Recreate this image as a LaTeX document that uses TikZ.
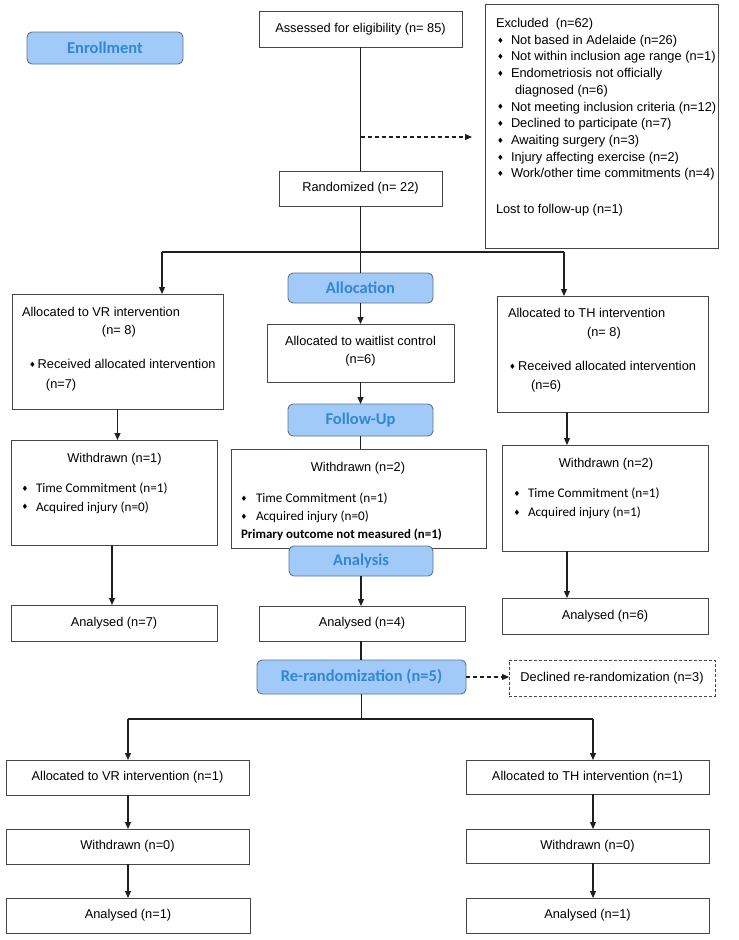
\documentclass[tikz,border=0pt]{standalone}
\usepackage{fontspec}
\setmainfont{Liberation Sans}
\newfontfamily\calfont{Carlito}
\newfontfamily\dvfont{DejaVu Sans}
\usetikzlibrary{arrows.meta,calc}
\definecolor{bfill}{RGB}{162,202,249}
\definecolor{bdraw}{RGB}{95,115,140}
\definecolor{btext}{RGB}{48,136,212}
\definecolor{gline}{RGB}{70,70,70}
\newcommand\dm{\raisebox{1.1pt}{\dvfont\fontsize{7.5}{7.5}\selectfont ♦}}
\newcommand\exb{\makebox[15pt][l]{\hspace{1.2pt}\dm}}
\begin{document}
\begin{tikzpicture}[x=1pt,y=-1pt,
 box/.style={draw=gline, line width=0.9pt, inner sep=0, outer sep=0, anchor=north west, font=\fontsize{12.8}{16}\selectfont},
 dbox/.style={box, dashed, dash pattern=on 3pt off 2pt},
 stage/.style={draw=bdraw, fill=bfill, rounded corners=5pt, line width=0.9pt, inner sep=0, outer sep=0, anchor=north west, font=\calfont\bfseries\fontsize{16.5}{18}\selectfont, text=btext},
 conn/.style={draw=black!88, line width=1.1pt},
 arr/.style={conn, -{Triangle[width=6pt,length=7pt]}},
 dasharr/.style={conn, dash pattern=on 4pt off 3pt, -{Triangle[width=6pt,length=7pt]}},
 txt/.style={inner sep=0, outer sep=0, anchor=base, font=\fontsize{12.8}{18}\selectfont},
 ltxt/.style={txt, anchor=base west},
 ctxt/.style={inner sep=0, outer sep=0, anchor=base west, font=\calfont\fontsize{13.2}{18}\selectfont},
]
\useasboundingbox[fill=white] (0,0) rectangle (739,940);

% ---------- enrollment ----------
\node[stage, minimum width=156, minimum height=32] (enr) at (27,32) {Enrollment};
\node[box, minimum width=203, minimum height=36] (assess) at (259,11) {Assessed for eligibility (n= 85)};
\node[box, minimum width=233, minimum height=244] (excl) at (485,4) {};
\node[ltxt, font=\fontsize{12.8}{16.7}\selectfont] (excltxt) at (496,27.5) {\begin{tabular}[t]{@{}l@{}}
Excluded\ \ (n=62)\\
\exb Not based in Adelaide (n=26)\\
\exb Not within inclusion age range (n=1)\\
\exb Endometriosis not officially\\
\hspace{19pt}diagnosed (n=6)\\
\exb Not meeting inclusion criteria (n=12)\\
\exb Declined to participate (n=7)\\
\exb Awaiting surgery (n=3)\\
\exb Injury affecting exercise (n=2)\\
\exb Work/other time commitments (n=4)\\[19.3pt]
Lost to follow-up (n=1)
\end{tabular}};
\node[box, minimum width=163, minimum height=35] (rand) at (279,171) {Randomized (n= 22)};
\coordinate (exarr) at (472,137);
\draw[conn] (assess.south) -- (assess.south |- rand.north);
\draw[dasharr] (assess.south |- exarr) -- (exarr);

% ---------- allocation ----------
\node[stage, minimum width=145, minimum height=30] (alloc) at (288,273) {Allocation};
\node[box, minimum width=211, minimum height=115] (vr) at (12,294) {};
\node[ltxt] (vrtxt) at (22,316.5) {\begin{tabular}[t]{@{}l@{}}
Allocated to VR intervention\\
\hspace{80pt}(n= 8)\\[16pt]
\hspace{7pt}\dm\hspace{2pt}Received allocated intervention\\[2pt]
\hspace{24pt}(n=7)
\end{tabular}};
\node[box, minimum width=187, minimum height=58] (wait) at (267,324) {};
\node[txt] (waittxt) at (360.5,345.5) {\begin{tabular}[t]{@{}c@{}}Allocated to waitlist control\\(n=6)\end{tabular}};
\node[box, minimum width=211, minimum height=116] (th) at (497,296) {};
\node[ltxt] (thtxt) at (508,317.5) {\begin{tabular}[t]{@{}l@{}}
Allocated to TH intervention\\[1pt]
\hspace{79pt}(n= 8)\\[16pt]
\hspace{1pt}\dm\hspace{2.5pt}Received allocated intervention\\[1pt]
\hspace{23pt}(n=6)
\end{tabular}};
\coordinate (jL) at (162,252);
\coordinate (jR) at (564,252);
\draw[conn] (rand.south) -- (rand.south |- alloc.north);
\draw[conn] (jL) -- (jR);
\draw[arr] (jL) -- (jL |- vr.north);
\draw[arr] (jR) -- (jR |- th.north);
\draw[arr] (alloc.south) -- (alloc.south |- wait.north);

% ---------- follow-up ----------
\node[stage, minimum width=145, minimum height=32] (fu) at (288,404) {Follow-Up};
\node[box, minimum width=206, minimum height=105] (vrw) at (11,440) {};
\node[txt] (vrwt) at (114.5,462.5) {Withdrawn (n=1)};
\node[ctxt] (vrwl) at (21,492.5) {\begin{tabular}[t]{@{}l@{}}
\makebox[15pt][l]{\hspace{0.5pt}\dm}Time Commitment (n=1)\\[0.5pt]
\makebox[15pt][l]{\hspace{0.5pt}\dm}Acquired injury (n=0)
\end{tabular}};
\node[box, minimum width=255, minimum height=99] (wdm) at (231,449) {};
\node[txt] (wdmt) at (358,471.5) {Withdrawn (n=2)};
\node[ctxt] (wdml) at (240,502.5) {\begin{tabular}[t]{@{}l@{}}
\makebox[16pt][l]{\hspace{0.5pt}\dm}Time Commitment (n=1)\\
\makebox[16pt][l]{\hspace{0.5pt}\dm}Acquired injury (n=0)\\
\hspace{1pt}{\bfseries\fontsize{12.9}{18}\selectfont Primary outcome not measured (n=1)}
\end{tabular}};
\node[box, minimum width=206, minimum height=106] (thw) at (502,445) {};
\node[txt] (thwt) at (606,467.5) {Withdrawn (n=2)};
\node[ctxt] (thwl) at (513,497.5) {\begin{tabular}[t]{@{}l@{}}
\makebox[15pt][l]{\hspace{0.5pt}\dm}Time Commitment (n=1)\\[1pt]
\makebox[15pt][l]{\hspace{0.5pt}\dm}Acquired injury (n=1)
\end{tabular}};
\draw[arr] (wait.south) -- (wait.south |- fu.north);
\draw[conn] (fu.south) -- (fu.south |- wdm.north);
\draw[arr] (vr.south) -- (vr.south |- vrw.north);
\coordinate (thx) at (567,0);
\draw[arr] (thx |- th.south) -- (thx |- thw.north);

% ---------- analysis ----------
\node[stage, minimum width=144, minimum height=30] (ana) at (289,546) {Analysis};
\node[box, minimum width=206, minimum height=36] (vra) at (11,605) {Analysed (n=7)};
\node[box, minimum width=206, minimum height=35] (mida) at (259,606) {Analysed (n=4)};
\node[box, minimum width=206, minimum height=36] (tha) at (502,598) {Analysed (n=6)};
\coordinate (vrx) at (112,0);
\draw[arr] (vrx |- vrw.south) -- (vrx |- vra.north);
\draw[arr] (ana.south) -- (ana.south |- mida.north);
\draw[arr] (thx |- thw.south) -- (thx |- tha.north);

% ---------- re-randomization ----------
\node[stage, minimum width=209, minimum height=34] (rr) at (257,660) {Re-randomization (n=5)};
\node[dbox, minimum width=206, minimum height=36] (dec) at (509,660) {Declined re-randomization (n=3)};
\draw[conn] (ana.south |- mida.south) -- (ana.south |- rr.north);
\draw[dasharr] (rr.east) -- (rr.east -| dec.west);

\node[box, minimum width=243, minimum height=35] (vr1) at (6,760) {Allocated to VR intervention (n=1)};
\node[box, minimum width=243, minimum height=35] (vr2) at (6,829) {Withdrawn (n=0)};
\node[box, minimum width=244, minimum height=35] (vr3) at (6,898) {Analysed (n=1)};
\node[box, minimum width=243, minimum height=34] (th1) at (466,760) {Allocated to TH intervention (n=1)};
\node[box, minimum width=243, minimum height=34] (th2) at (466,829) {Withdrawn (n=0)};
\node[box, minimum width=243, minimum height=35] (th3) at (466,898) {Analysed (n=1)};

\coordinate (kL) at (128,719);
\coordinate (kR) at (593,719);
\draw[conn] (rr.south) -- (rr.south |- kL);
\draw[conn] (kL) -- (kR);
\draw[arr] (kL) -- (kL |- vr1.north);
\draw[arr] (kR) -- (kR |- th1.north);
\draw[arr] (kL |- vr1.south) -- (kL |- vr2.north);
\draw[arr] (kL |- vr2.south) -- (kL |- vr3.north);
\draw[arr] (kR |- th1.south) -- (kR |- th2.north);
\draw[arr] (kR |- th2.south) -- (kR |- th3.north);
\end{tikzpicture}
\end{document}
